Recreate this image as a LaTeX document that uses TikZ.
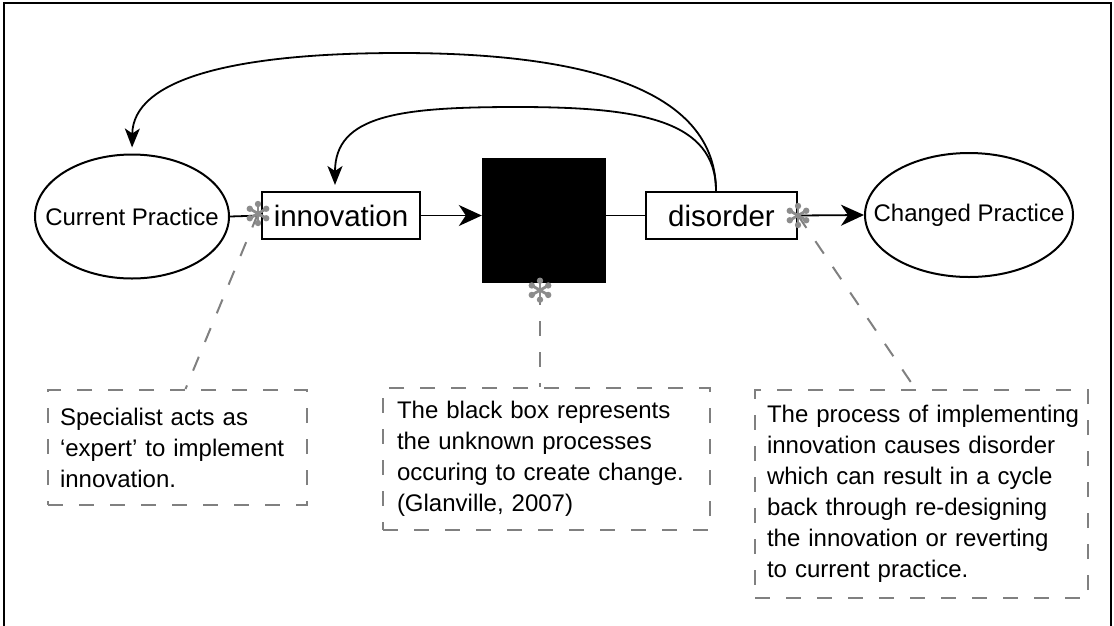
\documentclass[tikz,border=0pt]{standalone}
\usepackage{fontspec}
\setmainfont{Liberation Sans}
\usetikzlibrary{shapes.geometric,arrows.meta,calc}
\definecolor{dgray}{RGB}{128,128,128}
\definecolor{agray}{RGB}{140,140,140}
\begin{document}
\begin{tikzpicture}[x=1pt,y=-1pt,
  oval/.style={ellipse, draw, line width=2pt, inner sep=0pt, font=\fontsize{24}{28}\selectfont},
  stepbox/.style={rectangle, draw, line width=2pt, minimum height=47pt, inner sep=0pt, font=\fontsize{29.5}{34}\selectfont},
  note/.style={rectangle, draw=dgray, line width=2pt, dash pattern=on 15pt off 16pt, align=left, font=\fontsize{24}{31}\selectfont, inner ysep=0pt},
  link/.style={line width=1.8pt},
  flow/.style={link, -{Stealth[length=23pt,width=21pt,inset=7pt]}},
  back/.style={link, -{Stealth[length=19pt,width=15pt,inset=5pt]}, shorten >=6pt},
  lead/.style={draw=dgray, line width=2pt, dash pattern=on 15pt off 16pt},
  spark/.pic={
    \foreach \a in {30,90,...,330} {
      \draw[agray, line width=2.8pt, line cap=round] (0,0) -- (\a:9);
      \fill[agray] (\a:9.5) circle (3.2);
    }
  },
]
\useasboundingbox (0,0) rectangle (1114,625);
\draw[line width=2.5pt] (4,640) -- (4,3) -- (1111,3) -- (1111,640);

% main nodes
\node[oval, minimum width=194pt, minimum height=124pt] (cp) at (132,216.5) {\makebox[0pt]{Current Practice}};
\node[stepbox, minimum width=158pt] (innov) at (341,215.5) {innovation};
\node[draw, fill=black, minimum width=123pt, minimum height=124pt, inner sep=0pt] (bb) at (543.5,220) {};
\node[stepbox, minimum width=151pt] (dis) at (721.5,215.5) {disorder};
\node[oval, minimum width=208pt, minimum height=124pt] (chp) at (969,215) {\makebox[0pt]{Changed Practice}};

% note boxes
\node[note, minimum width=259pt, minimum height=115pt, text width=235pt, inner xsep=12pt] (n1) at (177.5,447.5)
  {\mbox{Specialist acts as}\\ \mbox{‘expert’ to implement}\\ \mbox{innovation.}};
\node[note, minimum width=327pt, minimum height=142pt, text width=299pt, inner xsep=14pt] (n2) at (546.5,459)
  {\mbox{The black box represents}\\ \mbox{the unknown processes}\\ \mbox{occuring to create change.}\\ \mbox{(Glanville, 2007)}};
\node[note, minimum width=333pt, minimum height=208pt, text width=309pt, inner xsep=12pt] (n3) at (921.5,494)
  {\mbox{The process of implementing}\\ \mbox{innovation causes disorder}\\ \mbox{which can result in a cycle}\\ \mbox{back through re-designing}\\ \mbox{the innovation or reverting}\\ \mbox{to current practice.}};

% asterisk anchor points
\coordinate (s1) at ([xshift=-3pt,yshift=2pt]innov.west);
\coordinate (s2) at ([xshift=-3.5pt,yshift=-8pt]bb.south);
\coordinate (s3) at (dis.east);

% connectors
\draw[link] (cp.east) -- (innov.west);
\draw[flow] (innov.east) -- (innov.east -| bb.west);
\draw[link] (bb.east |- dis.west) -- (dis.west);
\draw[flow] (dis.east) -- (chp.west);

% feedback loops
\coordinate (loop) at ([xshift=-5.5pt]dis.north);
\draw[back] (loop) .. controls (716,120) and (640,107) .. (517,107) .. controls (400,107) and (335,115) .. ([xshift=-6pt]innov.north);
\draw[back] (loop) .. controls (716,80) and (560,53) .. (400,53) .. controls (230,53) and (133,80) .. (cp.north);

% leader lines
\draw[lead] (s1) -- ([xshift=8pt]n1.north);
\draw[lead] (s2) -- (s2 |- n2.north);
\draw[lead] (s3) -- ([xshift=-6pt]n3.north);

% asterisks
\pic at (s1) {spark};
\pic at (s2) {spark};
\pic at (s3) {spark};
\end{tikzpicture}
\end{document}
